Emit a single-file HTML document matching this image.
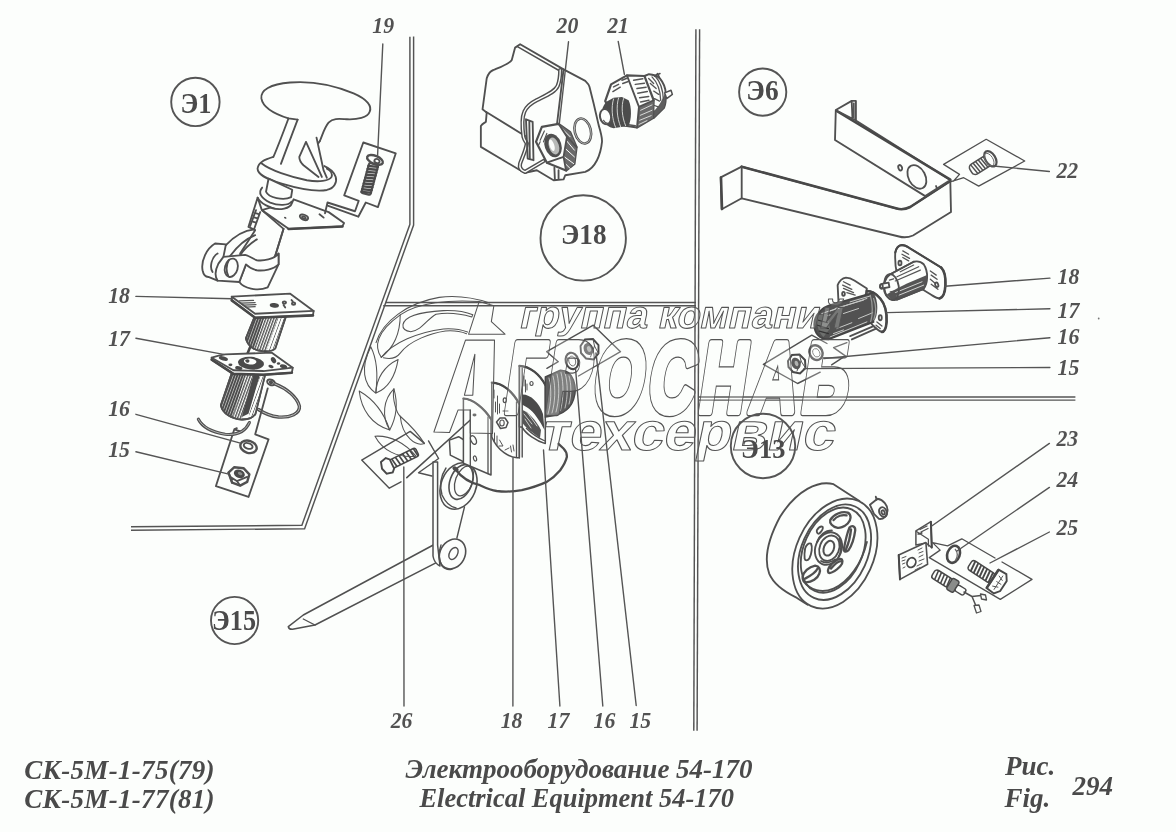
<!DOCTYPE html>
<html>
<head>
<meta charset="utf-8">
<title>Electrical Equipment 54-170</title>
<style>
html,body{margin:0;padding:0;background:#fcfefc;}
body{width:1176px;height:832px;overflow:hidden;position:relative;font-family:"Liberation Serif",serif;}
svg{position:absolute;left:0;top:0;display:block;will-change:transform;}
svg *{vector-effect:non-scaling-stroke;}
.ln{fill:none;stroke:#505050;stroke-width:1.85;stroke-linecap:round;stroke-linejoin:round;}
.lf{fill:#fcfefc;stroke:#505050;stroke-width:1.85;stroke-linecap:round;stroke-linejoin:round;}
.ck{fill:none;stroke:#555;stroke-width:1.9;}
.lt{fill:none;stroke:#555;stroke-width:1.4;stroke-linecap:round;stroke-linejoin:round;}
.lk{fill:none;stroke:#484848;stroke-width:2.6;stroke-linecap:round;stroke-linejoin:round;}
.hk{fill:none;stroke:#555;stroke-width:1;stroke-linecap:round;}
.fr{fill:none;stroke:#555;stroke-width:1.3;}
.fr2{fill:none;stroke:#888;stroke-width:0.9;}
.num{font-family:"Liberation Serif",serif;font-style:italic;font-weight:bold;font-size:23.4px;fill:#525252;}
.cl{font-family:"Liberation Serif",serif;font-weight:bold;fill:#4a4a4a;}
.cap{font-family:"Liberation Serif",serif;font-style:italic;font-weight:bold;fill:#4a4a4a;font-size:27px;}
.wm{fill:#fcfefc;stroke:#6a6a6a;stroke-width:1;font-family:"Liberation Sans",sans-serif;font-style:italic;font-weight:bold;}
.wl{fill:none;stroke:#777;stroke-width:0.9;stroke-linecap:round;stroke-linejoin:round;}
.wf{fill:#fcfefc;stroke:none;}
.dk{fill:#4a4a4a;stroke:none;}
.g6{transform-origin:0 0;}
</style>
</head>
<body>
<svg width="1176" height="832" viewBox="0 0 1176 832">
<rect x="0" y="0" width="1176" height="832" fill="#fcfefc"/>
<!-- 00_frame.svg -->
<g id="frame" fill="none" stroke="#545454" stroke-width="1.45">
<path d="M413.6 36.5 L413.6 225 L304.6 528.7 L131 530.3"/>
<path d="M409.9 36.8 L409.9 224.3 L301.9 525.3 L131 526.7"/>
<path d="M385.3 302.4 L696 302.4"/>
<path d="M383.2 305.7 L696 305.7"/>
<path d="M699.6 29.2 L697.1 730.7"/>
<path d="M695.9 29.2 L693.8 730.7"/>
<path d="M698 396.9 L1075.4 396.9"/>
<path d="M698 400.1 L1075.4 400.1"/>
</g>

<!-- 10_e1_handle.svg -->
<g id="e1handle">
<!-- zoom A: offset 240,70 scale 1/5.985 -->
<g transform="translate(240,70) scale(0.16708)">
<!-- flange -->
<path class="wf" d="M200,520 C150,535 110,550 105,590 C105,625 150,650 250,680 C350,710 450,730 520,718 C565,708 582,670 573,640 C565,615 540,590 505,575 C400,520 300,500 200,520 Z"/>
<path class="ln" d="M200,520 C150,535 110,550 105,590 C105,625 150,650 250,680 C350,710 450,730 520,718 C565,708 582,670 573,640 C565,615 540,590 505,575"/>
<path class="ln" d="M130,560 C180,600 300,640 400,660 C470,672 535,665 548,640 C555,620 540,600 520,590"/>
<!-- cap + stem -->
<path class="wf" d="M128,170 C122,120 180,85 300,75 C420,65 560,90 680,140 C760,175 792,215 776,250 C765,285 700,298 640,295 C600,293 560,285 530,315 C505,345 495,385 478,425 L500,600 L470,640 L380,570 L245,562 L200,520 C230,450 260,370 290,290 C180,255 135,215 128,170 Z"/>
<path class="ln" d="M478,425 C495,385 505,345 530,315 C560,285 600,293 640,295 C700,298 765,285 776,250 C792,215 760,175 680,140 C560,90 420,65 300,75 C180,85 122,120 128,170 C135,215 180,255 290,290 L345,297"/>
<path class="ln" d="M290,290 C260,370 230,450 200,520 M345,297 C310,390 275,480 245,562"/>
<path class="ln" d="M395,430 L355,520 C355,540 365,555 380,570 L470,640 M395,430 L490,640"/>
<path class="ln" d="M458,405 L500,600 L520,645 M478,425 L468,440"/>
</g>
<!-- zoom B: offset 190,160 -->
<g transform="translate(190,160) scale(0.16708)">
<!-- neck -->
<path class="lf" d="M470,112 L455,190 C470,225 560,245 605,222 L612,178 Z"/>
<path class="ln" d="M432,165 C405,195 425,230 480,255 C530,275 590,272 608,250"/>
<path class="ln" d="M405,225 C420,260 480,290 540,300 C570,303 600,295 610,275 L608,250"/>
<!-- body -->
<path class="lf" d="M405,225 L350,400 L390,420 L300,560 L335,625 L295,730 C320,765 400,790 465,762 L530,625 L530,560 L505,590 L560,412 L430,300 Z"/>
<path class="ln" d="M395,300 L360,395 M420,312 L385,410 M398,320 L415,325 M388,345 L405,350 M380,370 L395,375"/>
<!-- plate -->
<path class="lf" d="M430,300 L590,412 L912,397 L922,377 L830,312 L800,302 L620,235 L610,258 C600,290 540,305 480,285 Z"/>
<path class="lk" d="M590,413 L912,398"/>
<path class="ln" d="M560,412 L505,590"/>
<ellipse class="ln" cx="682" cy="343" rx="26" ry="15" transform="rotate(22 682 343)"/>
<ellipse class="ln" cx="682" cy="345" rx="12" ry="6" transform="rotate(22 682 345)"/>
<ellipse class="dk" cx="570" cy="346" rx="8" ry="5" transform="rotate(30 570 346)"/>
<path class="ln" d="M775,325 L800,345"/>
<!-- arm to ear -->
<path class="ln" d="M385,415 C330,420 270,450 215,510 M390,450 C340,470 280,520 240,575 M400,475 C360,500 320,540 300,570"/>
<!-- back ear -->
<path class="lf" d="M215,505 L150,500 C100,530 65,600 75,660 C80,685 95,700 110,700 L165,722 L200,580 Z"/>
<path class="ln" d="M165,560 C130,580 115,640 135,670"/>
<!-- front ear / clamp -->
<path class="lf" d="M200,580 L330,568 C360,575 380,595 400,600 C440,605 500,595 530,560 L530,625 C500,655 440,665 400,660 C375,655 350,640 335,625 L295,730 L165,722 C150,700 150,660 170,620 Z"/>
<ellipse class="ln" cx="247" cy="645" rx="38" ry="56" transform="rotate(15 247 645)"/>
<path class="ln" d="M232,600 C215,630 215,670 230,695"/>
</g>
<!-- tag plate 19 (zoom A coords) -->
<g transform="translate(240,70) scale(0.16708)">
<path class="ln" transform="scale(5.985) translate(-240,-70)" d="M344.2,195.4 L363.3,142.5 L395.8,153.3 L377.9,207.1 L365.8,202.5 L358.3,216.7 L328.3,205.8 M344.2,195.4 L358.75,200.8 L355,211.25 L327.5,202.5 L325,213.3"/>
<!-- screw -->
<g transform="rotate(15 780 640)">
<rect class="lf" x="752" y="560" width="56" height="185" rx="10" style="stroke-width:2.2"/>
<path class="hk" d="M752,580 L808,570 M752,598 L808,588 M752,616 L808,606 M752,634 L808,624 M752,652 L808,642 M752,670 L808,660 M752,688 L808,678 M752,706 L808,696 M752,724 L808,714 M752,740 L808,730" style="stroke-width:2.4;stroke:#4a4a4a"/>
</g>
<ellipse class="lf" cx="808" cy="538" rx="50" ry="24" transform="rotate(22 808 538)" style="stroke-width:2.4"/>
<ellipse class="ln" cx="820" cy="545" rx="16" ry="12" transform="rotate(22 820 545)"/>
</g>
</g>

<!-- 12_e1_lower.svg -->
<defs>
<pattern id="hatchD" width="15" height="15" patternUnits="userSpaceOnUse" patternTransform="rotate(20)">
<rect width="15" height="15" fill="#fcfefc"/><rect width="12" height="15" fill="#4c4c4c"/>
</pattern>
<pattern id="hatchM" width="15" height="15" patternUnits="userSpaceOnUse" patternTransform="rotate(20)">
<rect width="15" height="15" fill="#fcfefc"/><rect width="8" height="15" fill="#525252"/>
</pattern>
<pattern id="hatchL" width="18" height="18" patternUnits="userSpaceOnUse" patternTransform="rotate(20)">
<rect width="18" height="18" fill="#fcfefc"/><rect width="4.5" height="18" fill="#666"/>
</pattern>
</defs>
<g id="e1lower">
<!-- zoom offset 200,285 -->
<g transform="translate(200,285) scale(0.16708)">
<!-- part 18 cylinder -->
<path class="lf" d="M325,195 L275,320 C285,360 320,390 370,395 C410,398 440,392 450,380 L512,195 Z"/>
<path fill="url(#hatchD)" d="M325,198 L278,320 C285,345 300,365 325,380 L385,198 Z"/>
<path fill="url(#hatchM)" d="M385,198 L325,380 C350,392 380,396 400,394 L465,198 Z"/>
<path fill="url(#hatchL)" d="M465,198 L400,394 C425,394 442,388 450,380 L510,198 Z"/>
<path class="ln" d="M325,195 L275,320 C285,360 320,390 370,395 C410,398 440,392 450,380 L512,195"/>
<path class="lk" d="M300,372 L285,408 M392,400 L386,430"/>
<!-- part 18 plate -->
<path class="lf" d="M190,70 L540,52 L680,155 L676,182 L330,196 L190,92 Z"/>
<path class="lk" d="M190,92 L330,196 L676,182"/>
<path class="ln" d="M190,70 L330,172 L680,155"/>
<ellipse class="dk" cx="445" cy="122" rx="28" ry="14" transform="rotate(8 445 122)"/>
<path class="hk" d="M235,95 L320,92 M245,108 L330,105 M260,120 L335,117 M275,132 L330,130" style="stroke-width:1.3"/>
<ellipse class="ln" cx="505" cy="105" rx="10" ry="7"/><ellipse class="ln" cx="560" cy="112" rx="10" ry="7"/>
<path class="ln" d="M500,120 L510,135 M555,98 L548,90"/>
<!-- part 17 cylinder -->
<path class="lf" d="M190,528 L125,720 C135,770 190,800 250,805 C290,806 320,790 332,770 L390,535 Z"/>
<path fill="url(#hatchD)" d="M192,530 L128,720 C135,755 160,780 195,795 L275,532 Z"/>
<path fill="url(#hatchM)" d="M275,532 L195,795 C215,802 235,805 250,805 L320,534 Z"/>
<path fill="#4a4a4a" d="M320,534 L250,790 L290,770 L360,536 Z"/>
<path fill="url(#hatchL)" d="M360,536 L295,770 L300,795 C315,790 328,780 332,770 L388,536 Z"/>
<path class="ln" d="M190,528 L125,720 C135,770 190,800 250,805 C290,806 320,790 332,770 L390,535"/>
<!-- part 17 plate -->
<path class="lf" d="M70,435 C100,425 130,418 150,415 L430,405 L555,495 L550,525 L380,537 L200,532 L70,447 Z"/>
<path class="lk" d="M70,447 L200,532 L380,537 L550,525"/>
<path class="ln" d="M70,435 L200,510 L380,515 L555,495"/>
<ellipse class="dk" cx="305" cy="468" rx="78" ry="38" transform="rotate(5 305 468)"/>
<ellipse class="wf" cx="300" cy="458" rx="38" ry="18" transform="rotate(5 300 458)"/>
<path class="dk" d="M270,450 C285,440 300,445 295,460 C290,470 275,468 270,450 Z"/>
<ellipse class="dk" cx="140" cy="440" rx="28" ry="12" transform="rotate(15 140 440)"/>
<ellipse class="dk" cx="182" cy="478" rx="12" ry="8"/>
<ellipse class="dk" cx="232" cy="497" rx="22" ry="11" transform="rotate(10 232 497)"/>
<ellipse class="dk" cx="440" cy="450" rx="14" ry="20" transform="rotate(-30 440 450)"/>
<ellipse class="dk" cx="470" cy="470" rx="10" ry="7"/>
<ellipse class="dk" cx="500" cy="488" rx="22" ry="12" transform="rotate(15 500 488)"/>
<ellipse class="dk" cx="425" cy="488" rx="16" ry="9" transform="rotate(15 425 488)"/>
<!-- ring terminal and wire -->
<ellipse class="lf" cx="425" cy="583" rx="24" ry="16" transform="rotate(25 425 583)" style="stroke-width:2"/>
<ellipse class="ln" cx="425" cy="583" rx="8" ry="5" transform="rotate(25 425 583)"/>
<path d="M448,592 C520,620 580,670 595,725 C600,770 540,795 470,790 C420,785 380,765 350,745" fill="none" stroke="#505050" stroke-width="3.4" stroke-linecap="round"/>
<path d="M448,592 C520,620 580,670 595,725 C600,770 540,795 470,790 C420,785 380,765 350,745" fill="none" stroke="#c8cac8" stroke-width="0.9" stroke-linecap="round"/>
</g>
<!-- zoom offset 170,390 -->
<g transform="translate(170,390) scale(0.16708)">
<path class="ln" d="M585,-10 L510,265 L590,295 L470,640 L275,575 L385,235 L420,247 M385,235 L400,228"/>
<path d="M170,175 C190,215 240,250 330,265 C400,272 450,250 475,195" fill="none" stroke="#505050" stroke-width="3.2" stroke-linecap="round"/>
<path d="M170,175 C190,215 240,250 330,265 C400,272 450,250 475,195" fill="none" stroke="#c8cac8" stroke-width="0.8" stroke-linecap="round"/>
<!-- washer 16 -->
<ellipse class="lf" cx="470" cy="340" rx="50" ry="36" transform="rotate(18 470 340)" style="stroke-width:2.4"/>
<ellipse class="ln" cx="468" cy="335" rx="27" ry="16" transform="rotate(18 468 335)"/>
<!-- nut 15 -->
<path class="lf" style="stroke-width:2.4" d="M350,495 L385,462 L440,468 L475,505 L462,550 L420,572 L372,555 Z"/>
<ellipse class="dk" cx="415" cy="502" rx="34" ry="24" transform="rotate(20 415 502)"/>
<ellipse cx="420" cy="500" rx="14" ry="9" fill="#8a8c8a" transform="rotate(20 420 500)"/>
<path class="ln" d="M350,495 L360,520 L372,555 M360,520 L400,545 L420,572 M400,545 L462,520"/>
</g>
</g>

<!-- 20_e18.svg -->
<g id="e18">
<!-- zoom B offset 470,70 -->
<g transform="translate(470,70) scale(0.16708)">
<!-- housing -->
<path class="lf" d="M270,-134 L300,-154 L560,-4 L690,65 C705,80 712,90 715,100 L740,200 L770,330 C785,380 792,410 790,430 C785,480 775,510 760,540 C740,580 715,600 690,610 L570,630 L560,655 L500,660 L400,600 L330,615 L300,600 L65,460 L65,335 C75,320 90,315 95,310 L100,255 L75,235 L100,50 C110,20 125,5 140,0 C200,-25 240,-40 250,-60 Z"/>
<path class="ln" style="stroke-width:1.5" d="M284,-140 L548,12"/>
<path class="ln" d="M95,250 L330,395 M560,-4 L520,330"/>
<!-- gasket / wire edge -->
<path d="M540,0 C540,40 535,70 525,95 C510,130 460,150 400,180 C360,200 335,225 325,250 C312,280 312,340 320,400 C325,420 335,430 340,440 C335,480 310,530 300,560 C295,580 300,600 330,610 L440,545" fill="none" stroke="#505050" stroke-width="4.2" stroke-linecap="round" stroke-linejoin="round"/>
<path d="M540,0 C540,40 535,70 525,95 C510,130 460,150 400,180 C360,200 335,225 325,250 C312,280 312,340 320,400 C325,420 335,430 340,440 C335,480 310,530 300,560 C295,580 300,600 330,610 L440,545" fill="none" stroke="#fcfefc" stroke-width="1.3" stroke-linecap="round" stroke-linejoin="round"/>
<path class="ln" d="M335,295 L375,310 L380,540 L345,530 Z M355,305 L358,532"/>
<path class="ln" d="M505,585 L508,655 M530,600 L530,650"/>
<!-- hole in panel -->
<ellipse class="ln" cx="675" cy="365" rx="48" ry="76" transform="rotate(-14 675 365)" style="stroke-width:2.6"/>
<ellipse cx="675" cy="365" rx="48" ry="76" transform="rotate(-14 675 365)" fill="none" stroke="#dfe1df" stroke-width="0.7"/>
<!-- nut 20 -->
<path class="lf" style="stroke-width:2.2" d="M395,430 L430,340 L530,322 L600,372 L638,462 L625,562 L575,602 L460,555 Z"/>
<path fill="#6a6a6a" d="M530,322 L600,372 L638,462 L625,562 L575,602 L560,520 L580,400 Z"/>
<path class="hk" style="stroke:#fcfefc;stroke-width:1" d="M550,350 L600,400 M560,380 L615,440 M575,420 L625,480 M570,470 L625,520 M565,520 L620,560 M570,560 L600,590"/>
<path class="ln" d="M530,322 L580,400 L560,520 L575,602 M580,400 L638,462 M560,520 L460,555"/>
<ellipse cx="497" cy="452" rx="50" ry="72" transform="rotate(-18 497 452)" fill="#505050"/>
<ellipse cx="502" cy="455" rx="30" ry="52" transform="rotate(-18 502 455)" fill="#b8bab8"/>
<ellipse cx="490" cy="450" rx="14" ry="36" transform="rotate(-18 490 450)" fill="#fcfefc"/>
<path class="hk" d="M420,420 L445,365 M440,430 L460,380 M410,450 L420,430" style="stroke-width:1.2"/>
<!-- switch 21 : coords in zoom (520,0) mapped via nested transform -->
<g transform="translate(299.25,-418.95)">
<!-- back cylinder -->
<path class="lf" style="stroke-width:2" d="M745,455 L772,444 C800,446 822,455 836,468 C858,495 872,530 872,560 C874,600 868,632 862,645 L800,706 Z"/>
<path fill="#5e5e5e" d="M800,706 L862,645 C870,620 873,585 870,555 C850,600 830,640 800,665 Z"/>
<path class="hk" style="stroke-width:1.3" d="M790,460 C820,490 840,540 842,600 M806,452 C836,484 856,534 858,596 M770,470 L800,500 M780,500 L815,530 M800,545 L830,565 M805,590 L835,605 M800,630 L828,640"/>
<path class="lf" style="stroke-width:1.5" d="M866,556 L904,540 L912,565 L878,590 Z"/>
<path class="ln" style="stroke-width:1.5" d="M806,456 L824,440 L834,462 M822,448 L838,440"/>
<!-- hex -->
<path class="lf" style="stroke-width:2.2" d="M545,505 L640,451 L745,455 L800,600 L796,706 L700,763 L600,748 L510,605 Z"/>
<path fill="#6a6a6a" d="M712,640 L800,600 L796,706 L700,763 Z"/>
<path class="hk" style="stroke:#e4e6e4;stroke-width:0.9" d="M722,660 L790,628 M720,690 L790,660 M716,720 L785,692 M712,745 L760,722"/>
<path class="ln" d="M640,451 L712,640 L700,763 M712,640 L800,600"/>
<path class="hk" style="stroke-width:1.5" d="M560,520 L590,505 M556,548 L600,522 M610,480 L640,468 M615,500 L648,488 M680,480 L735,472 M690,505 L745,498 M700,530 L755,522 M705,558 L762,548 M716,585 L770,578 M722,610 L772,600 M640,745 L690,752"/>
<!-- stud -->
<path d="M560,585 L520,608 C490,635 480,680 500,722 C510,745 530,760 560,768 L650,752 C668,720 670,640 650,600 L610,580 Z" fill="#4c4c4c"/>
<path class="hk" style="stroke:#d0d2d0;stroke-width:1" d="M560,592 C545,640 550,710 572,762 M590,586 C575,635 580,705 602,758 M620,590 C605,635 610,700 632,752"/>
<ellipse class="lf" cx="512" cy="698" rx="33" ry="46" transform="rotate(-12 512 698)" style="stroke-width:2"/>
<path class="hk" style="stroke-width:1.1" d="M500,720 C505,730 515,738 525,738"/>
</g>
</g>
</g>

<!-- 30_e6.svg -->
<g id="e6">
<!-- bracket (real coords) -->
<path class="lf" d="M720.7,177.3 L741.7,166.7 L896.8,208.6 Q903.5,210.3 910.2,207 L950.3,181 L951,212 L913,235.5 Q906,238.5 899,236.5 L741.7,198.3 L721.7,209.3 Z"/>
<path class="lk" d="M741.7,166.7 L896.8,208.6 Q903.5,210.3 910.2,207 L950.3,181"/>
<path class="lk" d="M721,177.5 L722,209"/>
<path class="ln" d="M741.7,166.7 L741.7,198.3"/>
<path class="lf" d="M835.8,110 L851.7,100.9 L855.9,100.9 L855.9,120.5 L950.3,180 L925.2,196.1 L835,140 Z"/>
<path class="lk" d="M836.7,111 L950.3,179.6"/>
<path class="ln" d="M851.7,101 L852.5,119 M836.5,110.5 L855.9,120.5"/>
<path class="hk" d="M853.5,103 L853.5,118 M854.8,103 L854.8,119"/>
<ellipse class="ln" cx="916.9" cy="176.9" rx="8.4" ry="12.6" transform="rotate(-28 916.9 176.9)"/>
<ellipse class="ln" cx="900.2" cy="167.7" rx="1.8" ry="2.8" transform="rotate(-20 900.2 167.7)"/>
<path class="ln" d="M936,186 L937,188.5"/>
<!-- tag 22 -->
<path class="ln" d="M953.6,181 L959.5,174.4 L943.6,164.4 L986.2,139.3 L1024.7,161 L978.7,186.1 L963.7,177.7 L950.3,181.9" style="stroke-width:1.3"/>
<!-- screw 22 -->
<g transform="rotate(-32 981 164.5)">
<rect x="969" y="159" width="22" height="11.5" rx="4" fill="#fcfefc" stroke="#505050" stroke-width="1.6"/>
<path d="M972,159 L973.5,170.5 M975,159 L976.5,170.5 M978,159 L979.5,170.5 M981,159 L982.5,170.5 M984,159 L985.5,170.5 M987,159 L988.5,170.5" stroke="#505050" stroke-width="1.5" fill="none"/>
<ellipse cx="992" cy="164.6" rx="5" ry="8.5" fill="#fcfefc" stroke="#505050" stroke-width="2.2"/>
<ellipse cx="990.5" cy="164.6" rx="3.8" ry="7" fill="none" stroke="#6a6a6a" stroke-width="1"/>
</g>
</g>

<!-- 32_right_parts.svg -->
<g id="rparts">
<!-- tag plate 15/16 real coords -->
<path class="ln" style="stroke-width:1.4" d="M827,343.5 L811.8,335.1 L763.4,364.3 L797.6,383.5 L820.2,372.2 M846.9,342.6 L833.6,347.6 L845.3,355.9 L831.6,364.8"/>
<g transform="translate(780,235) scale(0.16708)">
<!-- part 18 right: plate -->
<path class="lf" d="M690,105 C695,80 710,62 730,60 C745,60 760,68 775,78 L965,195 C985,215 992,260 990,300 C988,340 975,375 955,380 C940,380 925,370 905,358 L700,232 C690,190 688,140 690,105 Z"/>
<path class="lk" d="M965,195 C985,215 992,260 990,300 C988,340 975,375 955,380"/>
<path class="lk" style="stroke-width:2" d="M690,105 C695,80 710,62 730,60 C745,60 760,68 775,78 L965,195"/>
<path class="hk" style="stroke-width:1.3" d="M735,95 L770,115 M730,115 L775,140 M735,135 L770,155 M900,215 L935,240 M905,240 L940,265 M900,265 L930,290 M905,295 L945,325"/>
<ellipse class="ln" cx="718" cy="168" rx="9" ry="14"/>
<ellipse class="ln" cx="938" cy="298" rx="9" ry="14" transform="rotate(-20 938 298)"/>
<!-- 18 cylinder -->
<path class="lf" d="M800,160 L660,235 C630,255 615,300 625,340 C635,375 665,395 700,387 L860,322 C885,290 890,220 860,175 C845,160 820,155 800,160 Z"/>
<path fill="#555" d="M640,355 C655,385 680,392 700,387 L860,322 C875,300 882,270 880,240 L760,290 L700,320 Z"/>
<path class="hk" style="stroke:#dfe1df;stroke-width:0.9" d="M690,345 L850,280 M700,365 L860,300"/>
<path class="hk" style="stroke-width:1.2" d="M700,250 L830,190 M690,275 L840,210 M720,220 L800,180"/>
<ellipse class="ln" cx="667" cy="312" rx="44" ry="78" transform="rotate(-8 667 312)"/>
<path class="ln" d="M800,160 L660,235 M860,322 L700,387"/>
<path class="lf" d="M650,285 L610,293 C595,298 595,318 610,320 L655,312 Z"/>
<ellipse class="ln" cx="607" cy="307" rx="8" ry="13"/>
<path class="hk" style="stroke-width:1.3" d="M660,340 L690,335 M665,355 L695,350 M655,270 L680,262"/>
<!-- part 17 right: back plate -->
<path class="lf" d="M345,300 C355,275 375,258 395,255 C415,255 430,262 445,272 L520,320 L500,420 L350,400 Z"/>
<path class="hk" style="stroke-width:1.3" d="M380,280 L420,300 M375,300 L430,325 M380,320 L440,345 M400,345 L450,360"/>
<ellipse class="ln" cx="380" cy="352" rx="8" ry="12"/>
<!-- 17 front plate -->
<path class="lf" d="M520,335 C545,335 575,350 600,380 C630,415 640,470 638,520 C635,560 625,580 610,580 C590,575 570,555 555,540 L520,500 Z"/>
<path class="lk" d="M520,335 C545,335 575,350 600,380 C630,415 640,470 638,520 C635,560 625,580 610,580"/>
<ellipse class="ln" cx="600" cy="495" rx="9" ry="15"/>
<path class="hk" style="stroke-width:1.3" d="M580,520 L610,545 M575,540 L600,560"/>
<!-- 17 dark cylinder -->
<path fill="#525252" d="M560,345 L300,420 C250,435 205,480 205,535 C205,590 240,625 290,625 L560,520 C590,480 590,390 560,345 Z"/>
<path class="hk" style="stroke:#c8cac8;stroke-width:1" d="M250,470 L520,380 M235,500 L300,478 M300,610 L520,520 M330,440 L500,390 M420,400 L540,365 M300,455 L360,435 M380,470 L470,440 M340,560 L430,525 M470,500 L555,465 M320,590 L380,568"/>
<path class="hk" style="stroke:#9a9c9a;stroke-width:1.2" d="M560,380 C575,420 575,470 562,505 M540,360 C556,410 556,480 542,522"/>
<path d="M230,480 C215,520 225,580 260,610 L300,560 L280,470 Z" fill="#6e706e"/>
<path class="hk" style="stroke:#333;stroke-width:1.2" d="M225,540 L290,560 M235,575 L290,590 M230,510 L285,525"/>
<path class="ln" style="stroke:#444" d="M560,345 L300,420 C250,435 205,480 205,535 C205,590 240,625 290,625 L560,520"/>
<path class="ln" d="M420,605 L560,545 M430,625 L575,560"/>
</g>
<!-- washer 16 / nut 15 real coords -->
<ellipse cx="816" cy="352.6" rx="6.4" ry="7.6" transform="rotate(-25 816 352.6)" fill="#fcfefc" stroke="#484848" stroke-width="2.4"/>
<ellipse cx="816.3" cy="352.8" rx="3.3" ry="4.4" transform="rotate(-25 816.3 352.8)" fill="none" stroke="#6a6a6a" stroke-width="1"/>
<path d="M788,361 L792,355 L799.5,354.5 L805,360 L805.5,368 L800,373.5 L793,372 L788.5,367 Z" fill="#fcfefc" stroke="#484848" stroke-width="2"/>
<ellipse cx="796" cy="363.5" rx="4.6" ry="6" transform="rotate(-20 796 363.5)" fill="#5a5a5a"/>
<ellipse cx="796.5" cy="363.5" rx="1.8" ry="2.8" transform="rotate(-20 796.5 363.5)" fill="#b0b2b0"/>
<path class="hk" d="M799.5,354.5 L801,361 L805.5,368 M801,361 L797,371"/>
</g>

<!-- 40_e15.svg -->
<g id="e15">
<!-- rod -->
<path class="lf" style="stroke-width:1.5" d="M433.3,545 L303.3,615 L288.3,626.7 Q289,629.5 292.5,629.3 L315,625 L438.3,561.7 Z"/>
<path class="ln" style="stroke-width:1.3" d="M303.3,619 Q309,622 315,625"/>
<!-- lever -->
<path class="lf" style="stroke-width:1.5" d="M433,462 L433,556 Q434,563 440,566 L437.6,545 L437.6,462 Z"/>
<!-- link -->
<path class="ln" style="stroke-width:1.4" d="M464.5,506.9 L456.9,538"/>
<!-- lower ring -->
<ellipse class="lf" cx="452.5" cy="554" rx="12.5" ry="15.5" transform="rotate(28 452.5 554)" style="stroke-width:1.6"/>
<path class="ln" style="stroke-width:1.4" d="M441,545 Q437,556 442,566 Q447,571 452,569"/>
<ellipse class="ln" cx="453.5" cy="553.5" rx="4" ry="6.5" transform="rotate(28 453.5 553.5)" style="stroke-width:1.4"/>
<!-- U bracket -->
<path class="lf" style="stroke-width:1.5" d="M449.4,440.1 L458.6,436.7 L464,440 L464,462 L450.3,455.1 Z"/>
<!-- upper ring -->
<ellipse class="lf" cx="458.5" cy="486" rx="17.5" ry="24" transform="rotate(22 458.5 486)" style="stroke-width:1.6"/>
<path class="ln" style="stroke-width:1.4" d="M446,468 Q438,480 442,495 Q447,506 456,508"/>
<ellipse class="ln" cx="461" cy="482" rx="11" ry="18" transform="rotate(20 461 482)" style="stroke-width:1.6"/>
<ellipse class="ln" cx="464" cy="481" rx="8.5" ry="15.5" transform="rotate(20 464 481)" style="stroke-width:1.3"/>
<!-- wire -->
<path d="M455,469 C462,478 470,483 480,485.2 C486,488 490,490 496.7,491 C505,492 514,491.5 521.8,490.2 C531,488 540,485 546.8,481.9 C553,478 557,474 560.2,470.2 C564,465 566,461 566.9,456.8 C567,452 565,450 563.5,448.5 L558.5,443.8" fill="none" stroke="#4c4c4c" stroke-width="2.3" stroke-linecap="round"/>
<ellipse cx="455.5" cy="469" rx="3.3" ry="2.2" transform="rotate(35 455.5 469)" fill="#4c4c4c"/>
<!-- plate 1 -->
<path class="lf" style="stroke-width:1.5" d="M463.4,398.5 C473,399 484,408 491,419 L491,475 L463.4,463.3 Z"/>
<path class="lk" style="stroke-width:2.2" d="M463.4,398.5 C473,399 484,408 491,419"/>
<path class="ln" style="stroke-width:1.3" d="M488,417 L488,473.5 M470.3,410 L470.3,466"/>
<ellipse class="dk" cx="474.5" cy="415" rx="2" ry="1.4"/>
<ellipse class="ln" cx="473.5" cy="440" rx="2.6" ry="4.6" transform="rotate(-25 473.5 440)" style="stroke-width:1.3"/>
<ellipse class="ln" cx="475" cy="458.5" rx="1.5" ry="2.6" transform="rotate(-15 475 458.5)" style="stroke-width:1.2"/>
<!-- plate 2 -->
<path class="lf" style="stroke-width:1.5" d="M491.8,382.7 C503,383 513,392 519.3,404 L519.3,457.6 C510,459 497,450 491.8,437 Z"/>
<path class="lk" style="stroke-width:2.2" d="M491.8,382.7 C503,383 513,392 519.3,404"/>
<path class="ln" style="stroke-width:1.3" d="M516.5,402 L516.5,457"/>
<path class="hk" d="M494,390 L494,398 M495.5,402 L495.5,412 M497.5,396 L497.5,414 M499.5,404 L499.5,413 M503,411 L508,411 M494.5,433 L494.5,442 M497,436 L497,445 M499.5,440 L503,446 L499,446 M505,450 L509,448 M510.5,446 L511.5,452 M513,445 L514,451"/>
<ellipse class="ln" cx="504.8" cy="400.2" rx="1.6" ry="2.4" style="stroke-width:1.2"/>
<path class="lf" style="stroke-width:1.5" d="M496.5,422 L500,418 L505,418 L508,422.5 L506,427.5 L500.5,428.5 Z"/>
<ellipse class="ln" cx="502" cy="423" rx="2.2" ry="3" style="stroke-width:1.1"/>
<!-- plate 3 -->
<path class="lf" style="stroke-width:1.5" d="M519.4,365.9 C530,366 540,375 545.3,385 L545.3,443.6 C536,441 526,434 521.9,427 L519.4,427 Z"/>
<path class="lk" style="stroke-width:2.2" d="M519.4,365.9 C530,366 540,375 545.3,385"/>
<path class="ln" style="stroke-width:1.4" d="M519.4,365.9 L519.4,458 M522.2,368 L522.2,457"/>
<path class="hk" d="M524,376 L524,386 M525.5,380 L525.5,392 M527,384 L527,390"/>
<ellipse class="ln" cx="531.5" cy="383.5" rx="1.6" ry="2" style="stroke-width:1.2"/>
<path d="M521.9,394.5 C530,394 539,402 543,414 L544.5,430 C540,421 534,412 528,408 C525,406 523,405 521.9,404.5 Z" fill="#4a4a4a"/>
<path d="M522.5,410 C528,412 536,420 541,430 L540,438 C534,434 526,428 522.5,423 Z" fill="#555"/>
<path class="hk" style="stroke:#c8cac8" d="M524,414 L532,424 M525,419 L531,428 M527,412 L537,426"/>
<path d="M526,428 C531,433 538,438 545,441" stroke="#505050" stroke-width="1.3" fill="none"/>
<!-- coil -->
<path d="M545.3,377 L560.3,370.1 C566,370 571,373 573.5,380 C576,387 575.5,394 573.7,399 C572,404 570,407 567,409.5 C563,413 559,415 545.3,417 Z" fill="#5c5c5c" stroke="#484848" stroke-width="1.4"/>
<path class="hk" style="stroke:#d4d6d4;stroke-width:0.8" d="M549,378 C552,390 551,404 548,414 M553,376 C556,388 555,403 552,413 M557,374 C560,386 559,401 556,412 M561,372.5 C564,384 563.5,399 560.5,410.5 M565,373 C568,383 568,397 565,408 M569,376 C571.5,384 571.5,395 569,404"/>
<!-- tag plate 15/16 -->
<path class="ln" style="stroke-width:1.4" d="M546.9,368.3 L558.3,361.7 L546.7,351.7 L593.3,325.2 L620.5,351.7 L578.5,376"/>
<!-- washer 16 -->
<ellipse cx="572" cy="360.9" rx="6.3" ry="8.3" transform="rotate(-15 572 360.9)" fill="#fcfefc" stroke="#484848" stroke-width="2.1"/>
<ellipse cx="572.2" cy="361" rx="3.4" ry="5" transform="rotate(-15 572.2 361)" fill="none" stroke="#6a6a6a" stroke-width="1"/>
<!-- nut 15 -->
<path d="M580.5,346 L585,339.5 L593,339 L598.5,345 L598.5,353.5 L593.5,359.5 L586,358.5 L581,353 Z" fill="#fcfefc" stroke="#484848" stroke-width="1.9"/>
<ellipse cx="588.5" cy="349" rx="4.8" ry="6.2" transform="rotate(-20 588.5 349)" fill="#5a5a5a"/>
<ellipse cx="589" cy="349" rx="2" ry="3" transform="rotate(-20 589 349)" fill="#b0b2b0"/>
<path class="hk" d="M593,339 L594.5,346 L598.5,353.5 M594.5,346 L590.5,357"/>
<!-- tag 26 + screw -->
<path class="ln" style="stroke-width:1.4" d="M401,481.8 L389.3,488.2 L361.7,460.1 L410.2,431.4 L424.4,443.4 M428.5,440.9 L438.6,458.5 L418.5,472.7 L431.9,476"/>
<path class="ln" style="stroke-width:1.6" d="M406.8,477.7 L470.3,420"/>
<g transform="rotate(-26 400 460)">
<rect x="389" y="455.5" width="30" height="9" rx="2" fill="#fcfefc" stroke="#484848" stroke-width="1.5"/>
<path d="M393,455.5 L394.5,464.5 M397,455.5 L398.5,464.5 M401,455.5 L402.5,464.5 M405,455.5 L406.5,464.5 M409,455.5 L410.5,464.5 M413,455.5 L414.5,464.5 M417,455.5 L418,464.5" stroke="#484848" stroke-width="1.7" fill="none"/>
<path d="M382,453.5 L388,452 L391,455 L391,465 L388,468 L382,466.5 L380,460 Z" fill="#fcfefc" stroke="#484848" stroke-width="1.9"/>
</g>
</g>

<!-- 50_e13.svg -->
<g id="e13">
<g transform="translate(755,470) scale(0.16708)">
<!-- back / side -->
<path class="lf" d="M625,185 L470,85 C380,60 250,120 150,280 C75,420 55,540 85,620 C110,680 170,725 245,762 C270,778 290,792 315,806 L400,700 Z" style="stroke:none"/><path class="ln" d="M625,185 L470,85 C380,60 250,120 150,280 C75,420 55,540 85,620 C110,680 170,725 245,762 C270,778 290,792 315,806"/>
<!-- boss -->
<path class="lf" d="M688,208 L733,172 C768,178 796,212 793,245 C791,275 770,297 742,293 L712,262 Z"/>
<ellipse class="ln" cx="766" cy="252" rx="22" ry="30" transform="rotate(-25 766 252)"/>
<ellipse class="ln" cx="767" cy="254" rx="9" ry="13" transform="rotate(-25 767 254)"/>
<path class="ln" d="M723,160 L728,178"/>
<!-- front rim -->
<ellipse class="lf" cx="478" cy="500" rx="232" ry="345" transform="rotate(24.3 478 500)" style="stroke-width:1.8"/>
<ellipse class="ln" cx="476" cy="492" rx="198" ry="300" transform="rotate(24.3 476 492)"/>
<ellipse class="ln" cx="468" cy="480" rx="175" ry="268" transform="rotate(24.3 468 480)"/>
<path class="ln" d="M290,665 C330,720 400,740 470,710 C560,670 640,560 670,430"/>
<!-- hub -->
<ellipse class="ln" cx="440" cy="470" rx="78" ry="100" transform="rotate(22 440 470)"/>
<ellipse class="ln" cx="445" cy="468" rx="58" ry="78" transform="rotate(22 445 468)"/>
<ellipse class="ln" cx="442" cy="468" rx="30" ry="46" transform="rotate(22 442 468)" style="stroke-width:2"/>
<path class="ln" d="M372,430 C385,390 420,362 460,362 M505,410 C520,440 518,490 500,520 M395,545 C420,560 455,555 480,535"/>
<!-- windows -->
<path class="ln" style="stroke-width:2.3" d="M450,300 C470,265 520,245 555,255 C580,268 575,300 555,320 C535,340 505,350 490,345 C465,340 445,320 450,300 Z M470,300 C490,275 525,265 548,272"/>
<path class="ln" style="stroke-width:2.3" d="M565,345 C580,330 600,335 600,360 C595,400 580,450 560,480 C545,495 530,490 532,470 C540,430 550,380 565,345 Z M575,355 C570,400 560,440 545,475"/>
<path class="ln" style="stroke-width:2.3" d="M445,580 C470,545 505,525 520,535 C530,550 515,575 490,595 C470,610 450,620 440,615 C432,605 438,592 445,580 Z M455,590 C475,565 500,545 515,545"/>
<path class="ln" style="stroke-width:2.3" d="M285,640 C290,610 320,580 360,572 C385,575 395,595 385,620 C375,650 340,670 305,672 C290,668 284,655 285,640 Z M300,650 C320,640 360,620 375,590"/>
<path class="ln" d="M300,470 C305,450 320,435 335,440 C345,460 340,500 325,530 C315,545 300,545 297,530 C295,510 296,490 300,470 Z"/>
<path class="ln" d="M370,360 C380,345 395,335 405,340 C410,350 400,365 385,380 C375,385 368,375 370,360 Z"/>
</g>
<!-- plate 23 etc real coords -->
<path class="lf" style="stroke-width:1.5" d="M915.9,530.9 L930.9,521.7 L931.8,547.6 L926,543 L915.9,545 Z"/>
<path class="lk" style="stroke-width:2" d="M930.9,521.7 L931.8,547.6"/>
<path class="ln" style="stroke-width:1.3" d="M916.5,531.5 L928.4,539.3 L928.4,546 M918,534 L922,533 M920,529.5 L927,526 M921,532 L928,528.5"/>
<path class="lf" style="stroke-width:1.6" d="M898.7,555.1 L925.9,542.6 L927.6,564.3 L900,579.4 Z"/>
<path class="lk" style="stroke-width:2" d="M898.7,555.1 L900,579.4"/>
<ellipse cx="911.4" cy="562.6" rx="4.2" ry="5" transform="rotate(30 911.4 562.6)" fill="#fcfefc" stroke="#484848" stroke-width="1.8"/>
<path class="hk" d="M902,558 L906,556.5 M902,561 L905,560 M902.5,564 L905,563 M903,568 L905,567 M918,550 L922,548 M919,553 L923,551.5 M919,557 L923,555 M919,561 L924,559 M917,566 L922,563.5 M915,570 L920,567.5"/>
<path class="ln" style="stroke-width:1.3" d="M932.6,542.6 L947.6,545.9 L961.8,538.8 L995,558 M1002,562 L1032,579.4 L1000.3,599.4 L929.3,557.6 L940.1,550.1 L932.6,542.6"/>
<!-- washer 24 -->
<ellipse cx="953.5" cy="554.3" rx="6.2" ry="8.8" transform="rotate(20 953.5 554.3)" fill="#fcfefc" stroke="#484848" stroke-width="2.6"/>
<path d="M955,549 C958,552 958,557 955.5,560.5" fill="none" stroke="#6a6a6a" stroke-width="1.3"/>
<!-- bolt 25 -->
<g transform="rotate(33 985 574)">
<rect x="967" y="568.5" width="27" height="11" rx="3" fill="#fcfefc" stroke="#484848" stroke-width="1.5"/>
<path d="M970,568.5 L971.5,579.5 M973.5,568.5 L975,579.5 M977,568.5 L978.5,579.5 M980.5,568.5 L982,579.5 M984,568.5 L985.5,579.5 M987.5,568.5 L989,579.5 M991,568.5 L992.5,579.5" stroke="#484848" stroke-width="1.9" fill="none"/>
<path d="M994,563 L1003,562.5 L1007,568 L1007,580 L1003,585.5 L994,585 Z" fill="#fcfefc" stroke="#484848" stroke-width="1.9"/>
<path d="M994,563 L994,585" stroke="#484848" stroke-width="2.6"/>
<path class="hk" d="M998,568 L1003,570 M999,574 L1004,574 M998,580 L1003,578 M1001,566 L1001,582"/>
</g>
<!-- sensor -->
<g transform="rotate(32 945 581)">
<rect x="931" y="575.5" width="20" height="10" rx="3" fill="#fcfefc" stroke="#484848" stroke-width="1.5"/>
<path d="M934,575.5 L935.5,585.5 M937.5,575.5 L939,585.5 M941,575.5 L942.5,585.5 M944.5,575.5 L946,585.5 M948,575.5 L949.5,585.5" stroke="#484848" stroke-width="1.6" fill="none"/>
<rect x="950" y="574" width="8" height="13" rx="2" fill="#8a8c8a" stroke="#484848" stroke-width="1.5"/>
<rect x="958" y="577" width="10" height="7" rx="2" fill="#fcfefc" stroke="#484848" stroke-width="1.4"/>
</g>
<path class="ln" style="stroke-width:1.5" d="M964,592 L972,596.5 L981,595.5 M972,596.5 L976,606"/>
<path class="lf" style="stroke-width:1.3" d="M980.5,594 L985.5,595 L986.5,600 L981.5,599 Z M974,605.5 L979,605 L981,611.5 L976.5,613 Z"/>
</g>

<!-- 80_watermark.svg -->
<g id="wmfill" opacity="0.22" stroke-linejoin="round">
<path d="M465.5,340.1 L494.5,340.1 L492.5,433.5 L470.3,433 L470.3,409.9 L458.1,409.9 L449.5,432.5 L433.9,432 Z M474.9,354.2 L464.4,395.2 L472.8,395.2 Z" fill="#fcfefc" fill-rule="evenodd" stroke="none"/>
<text transform="translate(502.5,412) skewX(-8.5) scale(0.64,1)" x="0" y="0" font-family="Liberation Sans, sans-serif" font-weight="bold" font-size="100" letter-spacing="7.8" fill="#fcfefc" stroke="#fcfefc" stroke-width="6">ГРОСНАБ</text>
<text transform="translate(518.5,328.3) skewX(-12)" x="0" y="0" font-family="Liberation Sans, sans-serif" font-weight="bold" font-size="39" textLength="323" lengthAdjust="spacingAndGlyphs" fill="#fcfefc" stroke="none">группа компаний</text>
<text transform="translate(539,450) skewX(-12)" x="0" y="0" font-family="Liberation Sans, sans-serif" font-weight="bold" font-size="53.4" textLength="294" lengthAdjust="spacingAndGlyphs" fill="#fcfefc" stroke="none">техсервис</text>
</g>
<g id="watermark" fill="none" stroke="#545454" stroke-width="1.05" stroke-linejoin="round" stroke-linecap="round">
<!-- big A -->
<path d="M465.5,340.1 L494.5,340.1 L492.5,433.5 L470.3,433 L470.3,409.9 L458.1,409.9 L449.5,432.5 L433.9,432 Z M474.9,354.2 L464.4,395.2 L472.8,395.2 Z"/>
<mask id="wmM" maskUnits="userSpaceOnUse" x="430" y="300" width="450" height="170">
<rect x="430" y="300" width="450" height="170" fill="#fff" stroke="none"/>
<text transform="translate(502.5,412) skewX(-8.5) scale(0.64,1)" x="0" y="0" font-family="Liberation Sans, sans-serif" font-weight="bold" font-size="100" letter-spacing="7.8" fill="#000" stroke="#000" stroke-width="5.2">ГРОСНАБ</text>
</mask>
<g mask="url(#wmM)"><text transform="translate(502.5,412) skewX(-8.5) scale(0.64,1)" x="0" y="0" font-family="Liberation Sans, sans-serif" font-weight="bold" font-size="100" letter-spacing="7.8" fill="none" stroke="#545454" stroke-width="7.3">ГРОСНАБ</text></g>
<text transform="translate(518.5,328.3) skewX(-12)" x="0" y="0" font-family="Liberation Sans, sans-serif" font-weight="bold" font-size="39" textLength="323" lengthAdjust="spacingAndGlyphs">группа компаний</text>
<text transform="translate(539,450) skewX(-12)" x="0" y="0" font-family="Liberation Sans, sans-serif" font-weight="bold" font-size="53.4" textLength="294" lengthAdjust="spacingAndGlyphs">техсервис</text>
<!-- logo -->
<g transform="translate(355,290) scale(0.21039)">
<path d="M100,250 C130,150 250,60 400,35 C480,25 560,35 640,62"/>
<path d="M215,118 C300,60 450,45 590,55"/>
<path d="M228,165 C235,125 300,105 420,98 C480,96 530,105 560,118 L555,128 C500,112 430,108 385,115 C340,140 320,190 265,198 C240,195 225,185 228,165 Z"/>
<path d="M125,320 C180,250 300,200 420,185 C470,182 510,190 535,200"/>
<path d="M135,322 C170,330 200,320 215,300 C260,240 360,205 430,195 C470,192 505,198 530,208"/>
<path d="M590,55 L540,210 L713,210 L648,150 L660,75 Z"/>
<!-- leaves -->
<path d="M125,320 C90,270 100,200 215,118 C215,200 190,270 125,320 Z"/>
<path d="M75,270 C110,340 108,420 98,490 C40,450 25,370 75,270 Z"/>
<path d="M205,330 C190,420 150,470 100,490 C100,420 140,360 205,330 Z"/>
<path d="M20,480 C90,520 140,590 165,665 C80,640 30,570 20,480 Z"/>
<path d="M185,470 C205,540 195,610 165,665 C125,600 135,520 185,470 Z"/>
<path d="M95,695 C170,690 240,730 290,790 C200,800 130,760 95,695 Z"/>
<path d="M215,600 C260,640 305,690 330,730 C290,745 225,700 215,600 Z"/>
<path d="M185,470 C175,520 200,590 215,600"/>
</g>
</g>

<!-- 90_labels.svg -->
<g id="circles">
<circle class="ck" cx="195.4" cy="101.9" r="24.2"/>
<text class="cl" x="196" y="112.6" font-size="29.3" text-anchor="middle" textLength="31" lengthAdjust="spacingAndGlyphs">Э1</text>
<circle class="ck" cx="583.2" cy="237.9" r="42.7"/>
<text class="cl" x="583.7" y="244.2" font-size="29.3" text-anchor="middle" textLength="45.5" lengthAdjust="spacingAndGlyphs">Э18</text>
<circle class="ck" cx="762.7" cy="92.1" r="23.6"/>
<text class="cl" x="762.5" y="99.7" font-size="29.3" text-anchor="middle" textLength="32.3" lengthAdjust="spacingAndGlyphs">Э6</text>
<circle class="ck" cx="763" cy="446" r="32.2"/>
<text class="cl" x="763.2" y="457.5" font-size="27.9" text-anchor="middle" textLength="44.3" lengthAdjust="spacingAndGlyphs">Э13</text>
<circle class="ck" cx="234.6" cy="620.5" r="23.6"/>
<text class="cl" x="234" y="629.5" font-size="29.3" text-anchor="middle" textLength="44" lengthAdjust="spacingAndGlyphs">Э15</text>
</g>
<g id="labels">
<text class="num" textLength="21.8" lengthAdjust="spacingAndGlyphs" x="372.3" y="32.6">19</text>
<path class="lt" d="M382.8 44 L377.5 157"/>
<text class="num" textLength="21.8" lengthAdjust="spacingAndGlyphs" x="556.6" y="32.6">20</text>
<path class="lt" d="M568.5 41.8 L559.3 123.6"/>
<text class="num" textLength="21.8" lengthAdjust="spacingAndGlyphs" x="607.2" y="32.6">21</text>
<path class="lt" d="M618.2 41.4 L624.4 74.4"/>
<text class="num" textLength="21.8" lengthAdjust="spacingAndGlyphs" x="1056.4" y="177.7">22</text>
<path class="lt" d="M1049.4 171.5 L993.4 166"/>

<text class="num" textLength="21.8" lengthAdjust="spacingAndGlyphs" x="108.2" y="303.4">18</text>
<path class="lt" d="M135.9 296.4 L232 298.7"/>
<text class="num" textLength="21.8" lengthAdjust="spacingAndGlyphs" x="108.2" y="346">17</text>
<path class="lt" d="M135.9 338.2 L223.6 354.4"/>
<text class="num" textLength="21.8" lengthAdjust="spacingAndGlyphs" x="108.2" y="416.4">16</text>
<path class="lt" d="M135.9 414.3 L240.4 443.2"/>
<text class="num" textLength="21.8" lengthAdjust="spacingAndGlyphs" x="108.2" y="456.9">15</text>
<path class="lt" d="M135.9 451.8 L227.8 473.9"/>

<text class="num" textLength="21.8" lengthAdjust="spacingAndGlyphs" x="1057.6" y="283.9">18</text>
<path class="lt" d="M1049.9 278.1 L945 286.2"/>
<text class="num" textLength="21.8" lengthAdjust="spacingAndGlyphs" x="1057.6" y="317.7">17</text>
<path class="lt" d="M1049.9 308.8 L886.7 312.6"/>
<text class="num" textLength="21.8" lengthAdjust="spacingAndGlyphs" x="1057.6" y="343.6">16</text>
<path class="lt" d="M1049.9 337.7 L824 358.5"/>
<text class="num" textLength="21.8" lengthAdjust="spacingAndGlyphs" x="1057.6" y="375">15</text>
<path class="lt" d="M1049.9 367.5 L804 368.6"/>

<text class="num" textLength="21.8" lengthAdjust="spacingAndGlyphs" x="1056.4" y="445.6">23</text>
<path class="lt" d="M1049.4 443.4 L931.7 526"/>
<text class="num" textLength="21.8" lengthAdjust="spacingAndGlyphs" x="1056.4" y="487.2">24</text>
<path class="lt" d="M1049.4 487.4 L957 551"/>
<text class="num" textLength="21.8" lengthAdjust="spacingAndGlyphs" x="1056.4" y="535.3">25</text>
<path class="lt" d="M1049.4 532 L990 563"/>

<text class="num" textLength="21.8" lengthAdjust="spacingAndGlyphs" x="390.7" y="727.7">26</text>
<path class="lt" d="M403.8 467 L404 706"/>
<text class="num" textLength="21.8" lengthAdjust="spacingAndGlyphs" x="500.7" y="727.7">18</text>
<path class="lt" d="M513 458 L512.9 706"/>
<text class="num" textLength="21.8" lengthAdjust="spacingAndGlyphs" x="547.5" y="727.7">17</text>
<path class="lt" d="M543.5 450 L559.9 706"/>
<text class="num" textLength="21.8" lengthAdjust="spacingAndGlyphs" x="593.5" y="727.7">16</text>
<path class="lt" d="M575.5 368 L602.8 706"/>
<text class="num" textLength="21.8" lengthAdjust="spacingAndGlyphs" x="629.4" y="727.7">15</text>
<path class="lt" d="M596 353 L636.2 705.5"/>
<circle cx="1098.7" cy="318.5" r="0.9" fill="#777"/>
</g>
<g id="captions">
<text class="cap" x="24.3" y="778.5" textLength="190.3" lengthAdjust="spacing">СК-5М-1-75(79)</text>
<text class="cap" x="24.3" y="808.3" textLength="190.3" lengthAdjust="spacing">СК-5М-1-77(81)</text>
<text class="cap" x="579" y="778.3" text-anchor="middle">Электрооборудование 54-170</text>
<text class="cap" x="576.7" y="807.3" text-anchor="middle" textLength="314.5" lengthAdjust="spacingAndGlyphs">Electrical Equipment 54-170</text>
<text class="cap" x="1005" y="774.6">Рис.</text>
<text class="cap" x="1004.6" y="807.4">Fig.</text>
<text class="cap" x="1072.5" y="795.3">294</text>
</g>

</svg>
</body>
</html>
